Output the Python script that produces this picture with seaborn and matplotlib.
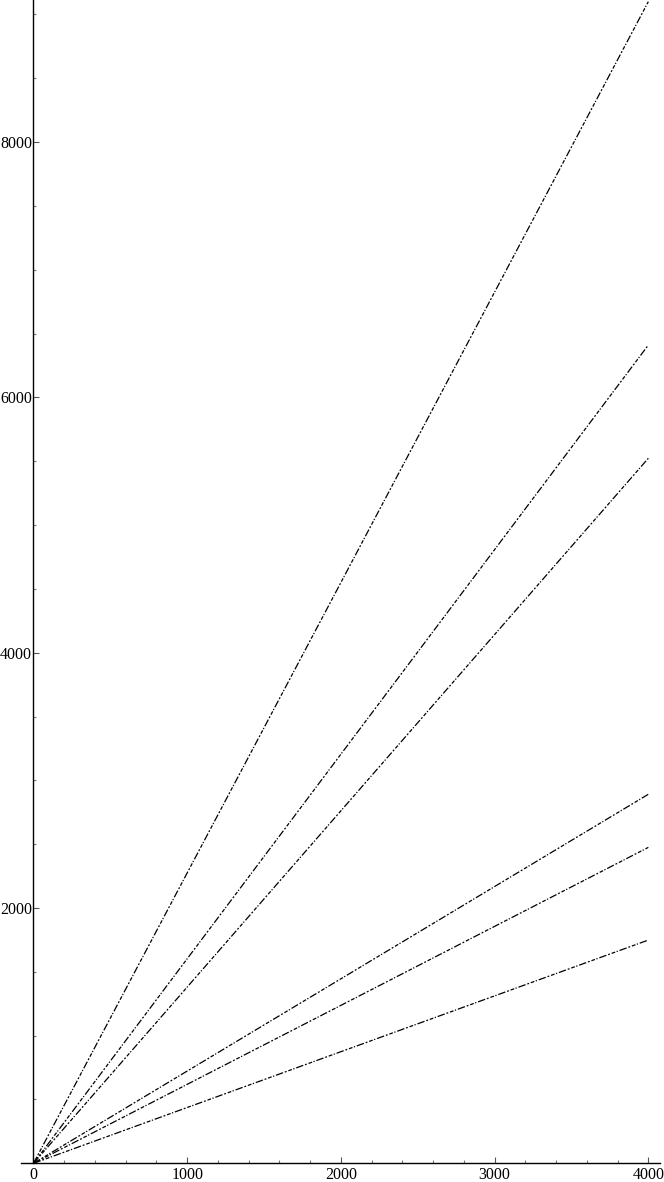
import matplotlib
matplotlib.use("Agg")
import matplotlib.pyplot as plt
import seaborn as sns
import pandas as pd
import numpy as np
from matplotlib.ticker import MultipleLocator

sns.set_theme(style="white")
plt.rcParams['font.family'] = ['Liberation Serif', 'DejaVu Serif']

# data: each series runs from the origin to x = 4000
x_vals = [0, 4000]
series_names = ["s1", "s2", "s3", "s4", "s5", "s6"]
series_end = [9100, 6410, 5523, 2891, 2475, 1749]

rows = []
for name, yend in zip(series_names, series_end):
    rows.append({"series": name, "x": x_vals[0], "y": 0})
    rows.append({"series": name, "x": x_vals[1], "y": yend})
df = pd.DataFrame(rows)

fig = plt.figure(figsize=(6.64, 11.82), dpi=100)
ax = fig.add_axes([0.0312, 0.0158, 0.9628, 0.9842])

sns.lineplot(data=df, x="x", y="y", units="series", estimator=None,
             color="black", linewidth=0.9, ax=ax, legend=False)
for ln in ax.get_lines():
    ln.set_dashes([6, 1.5, 1.5, 1.5, 3, 1.2, 1, 1.5])

ax.set_xlim(-83, 4076)
ax.set_ylim(0, 9113)
ax.set_xlabel("")
ax.set_ylabel("")

ax.spines['left'].set_position(('data', 0))
ax.spines['bottom'].set_position(('data', 0))
ax.spines['right'].set_visible(False)
ax.spines['top'].set_visible(False)
for s in ['left', 'bottom']:
    ax.spines[s].set_color('black')
    ax.spines[s].set_linewidth(1.0)

ax.xaxis.set_major_locator(MultipleLocator(1000))
ax.xaxis.set_minor_locator(MultipleLocator(200))
ax.yaxis.set_major_locator(MultipleLocator(2000))
ax.yaxis.set_minor_locator(MultipleLocator(500))
ax.tick_params(axis='both', which='major', direction='in', length=4, width=0.8,
               color='#555555', labelsize=11.5, labelcolor='black', pad=1,
               bottom=True, left=True)
ax.tick_params(axis='x', which='major', pad=3)
ax.tick_params(axis='both', which='minor', direction='in', length=2, width=0.8,
               color='#777777', bottom=True, left=True)
ax.set_yticks([2000, 4000, 6000, 8000])
ax.set_yticklabels(["2000", "4000", "6000", "8000"])
ax.set_xticks([0, 1000, 2000, 3000, 4000])
ax.set_xticklabels(["0", "1000", "2000", "3000", "4000"])
ax.grid(False)

fig.savefig("out.png", dpi=100)
